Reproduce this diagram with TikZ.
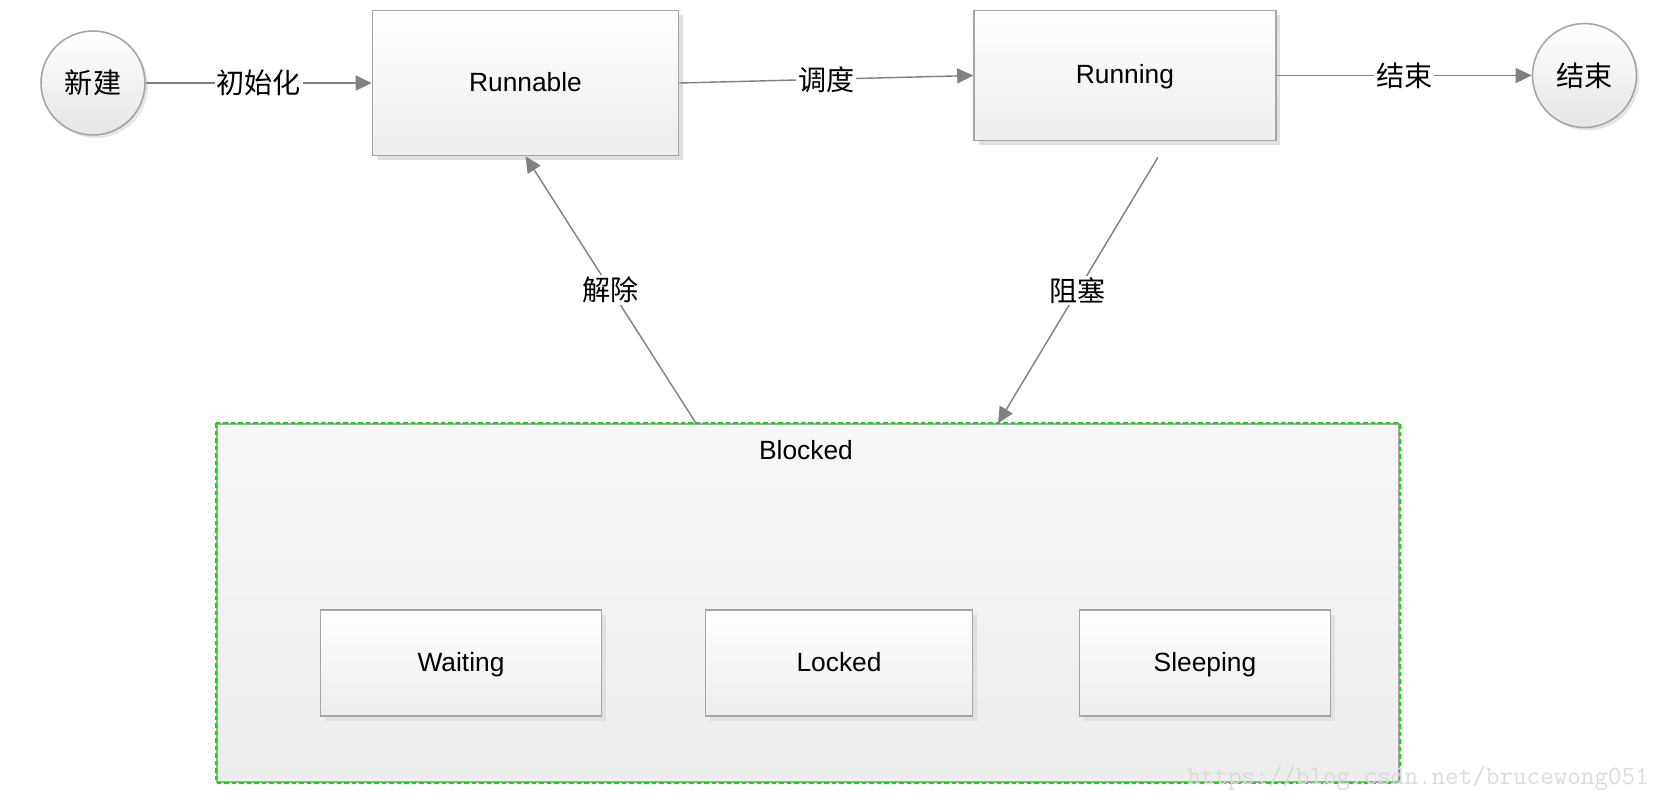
\documentclass[tikz,border=0pt]{standalone}
\usepackage{fontspec}
\setmainfont{Liberation Sans}
\newfontfamily\cjk{Noto Sans CJK SC}
\usetikzlibrary{arrows.meta, calc, positioning, shadows}
\definecolor{edgegray}{RGB}{128,128,128}
\definecolor{boxgray}{RGB}{165,165,165}
\definecolor{dashgreen}{RGB}{0,230,0}
\definecolor{markgray}{RGB}{218,218,218}

\begin{document}
\begin{tikzpicture}[
    x=0.02cm, y=-0.02cm,
    font=\fontsize{15}{18}\selectfont,
    box/.style={rectangle, draw=boxgray, line width=0.9pt,
                top color=white, bottom color=black!7,
                drop shadow={shadow xshift=0.09cm, shadow yshift=-0.09cm, fill=black!12, opacity=1},
                minimum width=6.12cm, minimum height=2.9cm, align=center,
                text height=0.95em, text depth=0pt},
    subbox/.style={box, minimum height=2.12cm},
    startend/.style={circle, draw=boxgray, line width=0.9pt,
                     top color=white, bottom color=black!10,
                     drop shadow={shadow xshift=0.06cm, shadow yshift=-0.06cm, fill=black!10, opacity=1},
                     minimum size=2.08cm, inner sep=0pt, font=\cjk\fontsize{16}{19}\selectfont},
    groupbox/.style={rectangle, draw=boxgray, line width=0.9pt,
                     top color=black!3, bottom color=black!7,
                     drop shadow={shadow xshift=0.05cm, shadow yshift=-0.05cm, fill=black!8, opacity=1},
                     minimum width=23.64cm, minimum height=7.16cm},
    grpdash/.style={draw=dashgreen, line width=1pt, dash pattern=on 0.09cm off 0.06cm},
    arr/.style={-{Triangle[length=0.32cm, width=0.3cm]}, draw=edgegray, line width=0.8pt},
    lbl/.style={font=\cjk\fontsize{16}{19}\selectfont, fill=white, inner sep=1pt},
    wmark/.style={font=\ttfamily\fontsize{15}{18}\selectfont, text=markgray, inner sep=0pt}
]
\useasboundingbox (0,0) rectangle (1665,808);

% Top row: states of the thread
\node[startend] (init) at (93,83) {新建};
\node[box, right=4.52cm of init] (runnable) {Runnable};
\node[box, minimum width=6.04cm, minimum height=2.6cm, right=5.88cm of runnable, yshift=0.15cm] (running) {Running};
\node[startend, right=5.1cm of running] (finish) {结束};

% Bottom: blocked group with its three kinds
\node[groupbox] (blocked) at (808,603) {};
\draw[grpdash] (blocked.north west) rectangle (blocked.south east);
\node (blkname) at ($(blocked.north)+(-2,27)$) {Blocked};
\node[subbox, minimum width=5.62cm] (waiting) at (461,663) {Waiting};
\node[subbox, minimum width=5.34cm] (locked) at (839,663) {Locked};
\node[subbox, minimum width=5.02cm] (sleeping) at (1205,663) {Sleeping};

% Attachment points for the slanted edges
\coordinate (runout) at ($(running.south)+(33,16)$);
\coordinate (blkin) at ($(blocked.north)+(190,0)$);
\coordinate (blkout) at ($(blocked.north)+(-112,0)$);

% Transitions
\draw[arr] (init.east) -- (runnable.west) node[lbl, midway] {初始化};
\draw[arr] (runnable.east) -- (running.west) node[lbl, midway] {调度};
\draw[arr] (running.east) -- (finish.west) node[lbl, midway] {结束};
\draw[arr] (runout) -- (blkin) node[lbl, midway] {阻塞};
\draw[arr] (blkout) -- (runnable.south) node[lbl, midway] {解除};

\node[wmark, anchor=west] (mark) at (1187,778) {https://blog.csdn.net/brucewong051};
\end{tikzpicture}
\end{document}
